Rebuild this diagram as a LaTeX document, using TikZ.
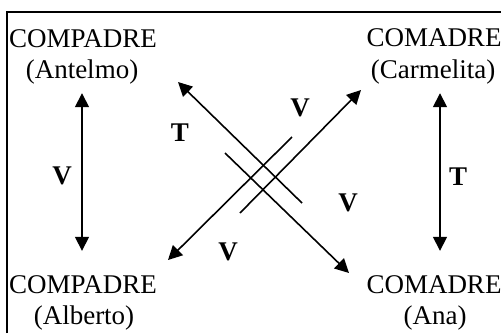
\documentclass[tikz,border=0pt]{standalone}
\usepackage{fontspec}
\setmainfont{Liberation Serif}
\usetikzlibrary{arrows.meta}
\begin{document}
\begin{tikzpicture}[x=1bp,y=-1bp,
  lbl/.style={inner sep=0pt, anchor=base, font=\fontsize{27bp}{31bp}\selectfont, text height=18bp, text depth=5bp},
  rel/.style={inner sep=0pt, font=\fontsize{27bp}{31bp}\selectfont\bfseries},
  conn/.style={line width=1.6bp},
  tipend/.style={-{Triangle[length=14bp,width=14bp]}},
  tipstart/.style={{Triangle[length=14bp,width=14bp]}-},
  tipboth/.style={{Triangle[length=14bp,width=14bp]}-{Triangle[length=14bp,width=14bp]}},
  frame/.style={line width=2bp}
]
\useasboundingbox (0,0) rectangle (501,333);
\draw[frame] (6.5,333) -- (6.5,11.5) -- (501,11.5);

% people
\node[lbl] (tl1) at (83,47) {COMPADRE};
\node[lbl] (tl2) at (82,78) {(Antelmo)};
\node[lbl] (tr1) at (434,46) {COMADRE};
\node[lbl] (tr2) at (433,78) {(Carmelita)};
\node[lbl] (bl1) at (83,293) {COMPADRE};
\node[lbl] (bl2) at (84,324) {(Alberto)};
\node[lbl] (br1) at (434,293) {COMADRE};
\node[lbl] (br2) at (435,324) {(Ana)};

% vertical relations
\draw[conn,tipboth,shorten <=10bp,shorten >=24bp] (tl2.south) -- (tl2.south |- bl1.north);
\draw[conn,tipboth,shorten <=10bp,shorten >=24bp] ([xshift=7bp]tr2.south) -- ([xshift=7bp]tr2.south |- br1.north);

% diagonal relations
\coordinate (a1) at (178,82);
\coordinate (a2) at (302,203);
\coordinate (b1) at (225,153);
\coordinate (b2) at (349,273);
\coordinate (c1) at (240,213);
\coordinate (c2) at (361,90);
\coordinate (d1) at (292,137);
\coordinate (d2) at (168,260);
\draw[conn,tipstart] (a1) -- (a2);
\draw[conn,tipend] (b1) -- (b2);
\draw[conn,tipend] (c1) -- (c2);
\draw[conn,tipend] (d1) -- (d2);

% relation labels
\node[rel] (vl) at (62,176) {V};
\node[rel] (tl) at (180,133) {T};
\node[rel] (vtr) at (300,108) {V};
\node[rel] (vr) at (348,203) {V};
\node[rel] (vbl) at (228,252) {V};
\node[rel] (tr) at (458,177) {T};
\end{tikzpicture}
\end{document}
